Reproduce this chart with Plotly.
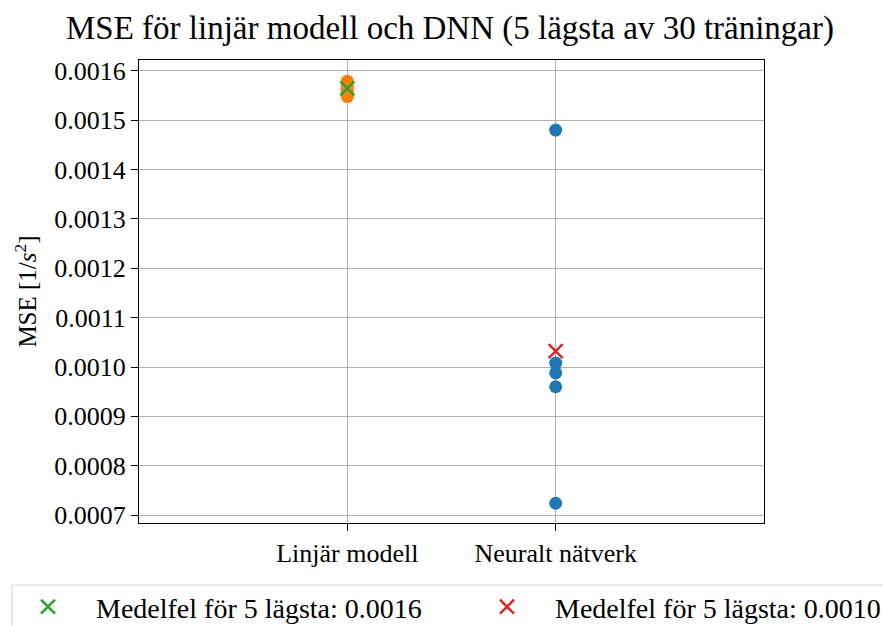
import plotly.graph_objects as go

categories = ["Linjär modell", "Neuralt nätverk"]
lin_mse = [0.001579, 0.001572, 0.001565, 0.001558, 0.001548]
dnn_mse = [0.001480, 0.001008, 0.000988, 0.000960, 0.000724]
lin_mean = sum(lin_mse) / len(lin_mse)
dnn_mean = sum(dnn_mse) / len(dnn_mse)
yticks = [0.0007, 0.0008, 0.0009, 0.0010, 0.0011, 0.0012, 0.0013, 0.0014, 0.0015, 0.0016]

FONT = "Liberation Serif, Times New Roman, serif"
L, R, T, B = 139, 119, 60, 103
W, H = 883, 626
PW, PH = W - L - R, H - T - B


def px_x(p):
    return (p - L) / PW


def px_y(p):
    return (H - B - p) / PH


fig = go.Figure()
fig.add_trace(go.Scatter(x=[categories[1]] * len(dnn_mse), y=dnn_mse, mode="markers",
                         marker=dict(color="#1f77b4", size=13), showlegend=False))
fig.add_trace(go.Scatter(x=[categories[0]] * len(lin_mse), y=lin_mse, mode="markers",
                         marker=dict(color="#ff7f0e", size=13), showlegend=False))
fig.add_trace(go.Scatter(x=[categories[0]], y=[lin_mean], mode="markers",
                         marker=dict(color="#2ca02c", size=14, symbol="x-thin",
                                     line=dict(width=2.5, color="#2ca02c")),
                         name=f"Medelfel för 5 lägsta: {lin_mean:.4f}", legend="legend"))
fig.add_trace(go.Scatter(x=[categories[1]], y=[dnn_mean], mode="markers",
                         marker=dict(color="#d62728", size=14, symbol="x-thin",
                                     line=dict(width=2.5, color="#d62728")),
                         name=f"Medelfel för 5 lägsta: {dnn_mean:.4f}", legend="legend2"))

legend_common = dict(orientation="h", yanchor="middle", y=px_y(607), xanchor="left",
                     bgcolor="rgba(0,0,0,0)", borderwidth=0,
                     font=dict(size=28, family=FONT, color="black"), itemwidth=86)

fig.update_layout(
    width=W, height=H,
    margin=dict(l=L, r=R, t=T, b=B, autoexpand=False),
    paper_bgcolor="white", plot_bgcolor="white",
    font=dict(family=FONT, size=26, color="black"),
    title=dict(text="MSE för linjär modell och DNN (5 lägsta av 30 träningar)",
               x=450 / W, xanchor="center", y=1 - 27 / H, yanchor="middle",
               font=dict(size=33, family=FONT)),
    xaxis=dict(type="category", range=[-1, 2], categoryorder="array", categoryarray=categories,
               showgrid=True, gridcolor="#b0b0b0", gridwidth=1,
               showline=True, linecolor="black", linewidth=1, mirror=True,
               ticks="outside", ticklen=7, tickcolor="black", zeroline=False),
    yaxis=dict(range=[0.000684, 0.001622], tickvals=yticks,
               ticktext=[f"{v:.4f}" for v in yticks],
               showgrid=True, gridcolor="#b0b0b0", gridwidth=1,
               showline=True, linecolor="black", linewidth=1, mirror=True,
               ticks="outside", ticklen=7, tickcolor="black", zeroline=False,
               title=dict(text="MSE [1/<i>s</i><sup>2</sup>]", standoff=10,
                          font=dict(size=25, family=FONT))),
    legend=dict(x=px_x(0), **legend_common),
    legend2=dict(x=px_x(459), **legend_common),
    shapes=[dict(type="rect", xref="paper", yref="paper",
                 x0=px_x(12), x1=px_x(W + 20), y0=px_y(585), y1=px_y(H + 20),
                 line=dict(color="#d0d0d0", width=1), fillcolor="rgba(0,0,0,0)")],
)
fig.write_html("out.html")
